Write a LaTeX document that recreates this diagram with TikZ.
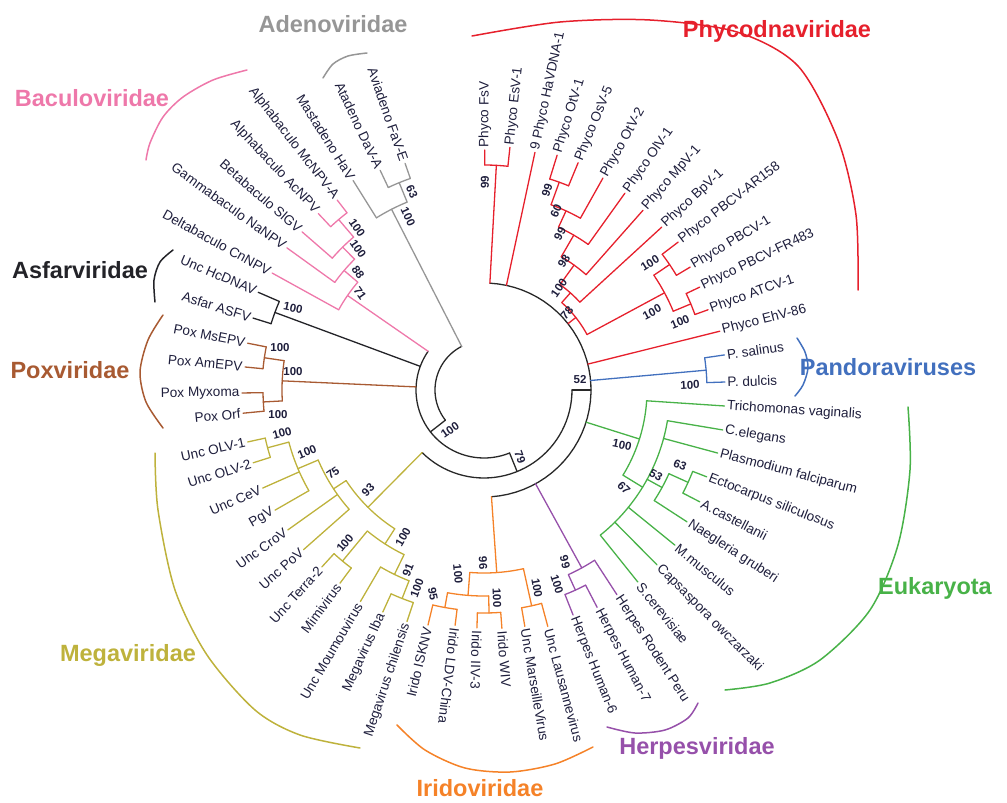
\documentclass[tikz,border=0pt]{standalone}
\usepackage{fontspec}
\setmainfont{Liberation Sans}
\usepackage{tikz}
\usepackage{xcolor}

\definecolor{phycol}{RGB}{230,32,44}
\definecolor{pancol}{RGB}{66,112,190}
\definecolor{eukcol}{RGB}{72,178,72}
\definecolor{hercol}{RGB}{150,80,170}
\definecolor{iricol}{RGB}{245,130,40}
\definecolor{megcol}{RGB}{190,178,60}
\definecolor{poxcol}{RGB}{168,90,50}
\definecolor{asfcol}{RGB}{35,35,40}
\definecolor{baccol}{RGB}{238,120,170}
\definecolor{adecol}{RGB}{150,150,150}
\definecolor{bbcol}{RGB}{40,40,40}
\definecolor{txtcol}{RGB}{30,30,60}

\tikzset{
  leaf/.style={inner sep=2pt, text=txtcol, font=\fontsize{13.6}{14}\selectfont},
  boot/.style={inner sep=0pt, text=txtcol, font=\fontsize{11.5}{12}\selectfont\bfseries},
  clade/.style={inner sep=0pt, font=\fontsize{23.5}{26}\selectfont\bfseries},
}

% leaf on the right half / left half: name, angle, r from, r tip, text
\newcommand{\tipR}[5]{\draw (#2:#3) -- (#2:#4) node[leaf, anchor=west, rotate={-(#2)}] (#1) {#5};}
\newcommand{\tipL}[5]{\draw (#2:#3) -- (#2:#4) node[leaf, anchor=east, rotate={180-(#2)}] (#1) {#5};}
% inner node: name, angle, r parent, r node, arc from, arc to
\newcommand{\knot}[6]{\draw (#2:#3) -- (#2:#4) coordinate (#1);
  \draw plot[domain=#5:#6, samples=40, variable=\t] (\t:#4);}

\begin{document}
\begin{tikzpicture}[x=1pt, y=-1pt, line width=1.3pt, line cap=round]
\useasboundingbox (0,0) rectangle (1007,803);

\begin{scope}[shift={(484,390)}]
% backbone
\begin{scope}[color=bbcol]
\coordinate (root) at (0,0);
\draw plot[domain=142:242.9, samples=40, variable=\t] (\t:49);
\knot{k1}{142}{49}{68}{67.9}{214.7}
\knot{k2}{67.9}{68}{88}{0}{134.7}
\knot{k3}{0}{88}{107}{-86.85}{86}
\end{scope}

% Phycodnaviridae
\begin{scope}[color=phycol]
\knot{p1}{-86.85}{107}{225}{-89.8}{-83.9}
\tipR{fsv}{-89.8}{225}{240}{Phyco FsV}
\tipR{esv}{-83.9}{225}{244}{Phyco EsV-1}
\tipR{hav}{-77.9}{107}{243}{9 Phyco HaVDNA-1}
\knot{p2}{-38.3}{107}{117}{-48.35}{-28.3}
\knot{p3}{-48.35}{117}{130}{-54.2}{-42.5}
\knot{p4}{-54.2}{130}{154}{-59.9}{-48.5}
\knot{p5}{-59.9}{154}{179}{-65.4}{-54.4}
\knot{p6}{-65.4}{179}{197}{-70.1}{-60.7}
\knot{p7}{-70.1}{197}{221}{-72.7}{-67.5}
\tipR{otv1}{-72.7}{221}{246}{Phyco OtV-1}
\tipR{osv5}{-67.5}{221}{246}{Phyco OsV-5}
\tipR{otv2}{-60.7}{197}{243}{Phyco OtV-2}
\tipR{olv}{-54.4}{179}{242}{Phyco OlV-1}
\tipR{mpv}{-48.5}{154}{240}{Phyco MpV-1}
\tipR{bpv}{-42.5}{130}{241}{Phyco BpV-1}
\knot{p8}{-28.3}{117}{205}{-34.05}{-22.6}
\knot{p9}{-34.05}{205}{224}{-37.3}{-30.8}
\knot{p10}{-22.6}{205}{224}{-25.5}{-19.7}
\tipR{ar158}{-37.3}{224}{244}{Phyco PBCV-AR158}
\tipR{pbcv}{-30.8}{224}{240}{Phyco PBCV-1}
\tipR{fr483}{-25.5}{224}{239}{Phyco PBCV-FR483}
\tipR{atcv}{-19.7}{224}{238}{Phyco ATCV-1}
\tipR{ehv}{-14}{107}{243}{Phyco EhV-86}
\end{scope}

% Pandoraviruses
\begin{scope}[color=pancol]
\knot{q1}{-5.1}{107}{223}{-8.3}{-1.9}
\tipR{psal}{-8.3}{223}{243}{P. salinus}
\tipR{pdul}{-1.9}{223}{241}{P. dulcis}
\end{scope}

% Eukaryota
\begin{scope}[color=eukcol]
\knot{e1}{17.5}{107}{163}{3.8}{31.5}
\tipR{tri}{3.8}{163}{241}{Trichomonas vaginalis}
\knot{e2}{31.5}{163}{186}{9.5}{51.3}
\tipR{cel}{9.5}{186}{242}{C.elegans}
\tipR{pla}{15.1}{186}{242}{Plasmodium falciparum}
\knot{e3}{28.7}{186}{203}{24.35}{33}
\knot{e4}{24.35}{203}{224}{21.3}{27.4}
\tipR{ect}{21.3}{224}{239}{Ectocarpus siliculosus}
\tipR{aca}{27.4}{224}{243}{A.castellanii}
\tipR{nae}{33}{203}{242}{Naegleria gruberi}
\tipR{mmu}{39.1}{186}{246}{M.musculus}
\tipR{cap}{45.3}{186}{246}{Capsaspora owczarzaki}
\tipR{sce}{51.3}{186}{246}{S.cerevisiae}
\end{scope}

% Herpesviridae
\begin{scope}[color=hercol]
\knot{h1}{61.2}{107}{203}{57}{65.45}
\knot{h2}{65.45}{203}{220}{62.5}{68.4}
\tipR{hrp}{57}{203}{244}{Herpes Rodent Peru}
\tipR{hh7}{62.5}{220}{245}{Herpes Human-7}
\tipR{hh6}{68.4}{220}{242}{Herpes Human-6}
\end{scope}

% Iridoviridae
\begin{scope}[color=iricol]
\knot{i1}{86}{107}{183}{77.55}{94.45}
\knot{i2}{94.45}{183}{206}{88.7}{100.2}
\knot{i3}{100.2}{206}{221}{97}{103.4}
\knot{i4}{88.7}{206}{223}{85.7}{91.7}
\knot{i5}{77.55}{183}{221}{74.9}{80.2}
\tipL{isk}{103.4}{221}{241.6}{Irido ISKNV}
\tipR{ldv}{97}{221}{237}{Irido LDV-China}
\tipR{iiv}{91.7}{223}{238}{Irido IIV-3}
\tipR{wiv}{85.7}{223}{239}{Irido WIV}
\tipR{mar}{80.2}{221}{240}{Unc MarseilleVirus}
\tipR{lau}{74.9}{221}{245}{Unc Lausannevirus}
\end{scope}

% Megaviridae
\begin{scope}[color=megcol]
\knot{m1}{134.7}{88}{165}{122.75}{146.7}
\knot{m2}{146.7}{165}{180}{138.5}{157.1}
\knot{m3}{157.1}{180}{202}{150.1}{165.05}
\knot{m4}{165.05}{202}{224}{162.5}{167.6}
\tipL{olv1}{167.6}{224}{242}{Unc OLV-1}
\tipL{olv2}{162.5}{224}{242}{Unc OLV-2}
\tipL{cev}{156.1}{202}{242}{Unc CeV}
\tipL{pgv}{150.1}{202}{241}{PgV}
\tipL{crov}{144.5}{180}{241}{Unc CroV}
\tipL{pov}{138.5}{180}{241}{Unc PoV}
\knot{m5}{122.75}{165}{183}{115.9}{129.6}
\knot{m6}{129.6}{183}{222}{126.7}{132.5}
\knot{m7}{115.9}{183}{205}{111.45}{120.3}
\knot{m8}{111.45}{205}{224}{108.4}{114.5}
\tipL{ter}{132.5}{222}{240}{Unc Terra-2}
\tipL{mim}{126.7}{222}{241}{Mimivirus}
\tipL{mou}{120.3}{205}{245}{Unc Moumouvirus}
\tipL{mlba}{114.5}{224}{244}{Megavirus lba}
\tipL{mchi}{108.4}{224}{244}{Megavirus chilensis}
\end{scope}

% Poxviridae
\begin{scope}[color=poxcol]
\knot{x1}{182.6}{68}{202}{176.9}{188.35}
\knot{x2}{188.35}{202}{222}{185.5}{191.2}
\knot{x3}{176.9}{202}{221}{174.5}{179.3}
\tipL{msepv}{191.2}{222}{241}{Pox MsEPV}
\tipL{amepv}{185.5}{222}{240}{Pox AmEPV}
\tipL{myx}{179.3}{221}{242}{Pox Myxoma}
\tipL{orf}{174.5}{221}{242}{Pox Orf}
\end{scope}

% Asfarviridae
\begin{scope}[color=asfcol]
\knot{s1}{200.35}{68}{223}{197.3}{203.4}
\tipL{hcd}{203.4}{223}{246}{Unc HcDNAV}
\tipL{asfv}{197.3}{223}{242}{Asfar ASFV}
\end{scope}

% Baculoviridae
\begin{scope}[color=baccol]
\knot{b1}{214.7}{68}{166}{208.9}{220.5}
\knot{b2}{220.5}{166}{184}{215.8}{225.3}
\knot{b3}{225.3}{184}{201}{221}{229.55}
\knot{b4}{229.55}{201}{224}{226.8}{232.3}
\tipL{mcn}{232.3}{224}{240}{Alphabaculo McNPV-A}
\tipL{acn}{226.8}{224}{242}{Alphabaculo AcNPV}
\tipL{slg}{221}{201}{241}{Betabaculo SlGV}
\tipL{nan}{215.8}{184}{243}{Gammabaculo NaNPV}
\tipL{cnn}{208.9}{166}{242}{Deltabaculo CnNPV}
\end{scope}

% Adenoviridae
\begin{scope}[color=adecol]
\knot{a1}{242.9}{49}{203}{238}{247.75}
\knot{a2}{247.75}{203}{224}{244.7}{250.8}
\tipL{mhav}{238}{203}{247}{Mastadeno HaV}
\tipL{dav}{244.7}{224}{243}{Atadeno DaV-A}
\tipL{fav}{250.8}{224}{240}{Aviadeno FaV-E}
\end{scope}
\end{scope}

% bootstrap values
\node[boot, rotate=90] (v1) at (485,182) {99};
\node[boot, rotate=72] (v2) at (547,190) {99};
\node[boot, rotate=66] (v3) at (556,211) {60};
\node[boot, rotate=62] (v4) at (560,234) {99};
\node[boot, rotate=58] (v5) at (564,261) {98};
\node[boot, rotate=55] (v6) at (559,288) {100};
\node[boot, rotate=48] (v7) at (567,313) {78};
\node[boot, rotate=32] (v8) at (650,263) {100};
\node[boot, rotate=28] (v9) at (652,312) {100};
\node[boot, rotate=22] (v10) at (680,322) {100};
\node[boot, rotate=3] (v11) at (690,385) {100};
\node[boot] (v12) at (580,380) {52};
\node[boot, rotate=-12] (v13) at (622,445) {100};
\node[boot, rotate=-45] (v14) at (624,488) {67};
\node[boot, rotate=-30] (v15) at (656,475) {53};
\node[boot, rotate=-22] (v16) at (680,465) {63};
\node[boot, rotate=-75] (v17) at (565,562) {99};
\node[boot, rotate=-72] (v18) at (557,584) {100};
\node[boot, rotate=-88] (v19) at (483,563) {96};
\node[boot, rotate=-85] (v20) at (458,574) {100};
\node[boot, rotate=-88] (v21) at (497,598) {100};
\node[boot, rotate=-80] (v22) at (537,588) {100};
\node[boot, rotate=-80] (v23) at (433,594) {95};
\node[boot, rotate=15] (v24) at (282,433) {100};
\node[boot, rotate=22] (v25) at (307,452) {100};
\node[boot, rotate=35] (v26) at (333,473) {75};
\node[boot, rotate=45] (v27) at (368,490) {93};
\node[boot, rotate=60] (v28) at (403,537) {100};
\node[boot, rotate=50] (v29) at (345,543) {100};
\node[boot, rotate=68] (v30) at (408,570) {91};
\node[boot, rotate=70] (v31) at (417,588) {100};
\node[boot] (v32) at (280,348) {100};
\node[boot] (v33) at (293,372) {100};
\node[boot] (v34) at (278,415) {100};
\node[boot, rotate=-12] (v35) at (293,308) {100};
\node[boot, rotate=-55] (v36) at (357,228) {100};
\node[boot, rotate=-55] (v37) at (358,249) {100};
\node[boot, rotate=-55] (v38) at (358,272) {88};
\node[boot, rotate=-55] (v39) at (360,293) {71};
\node[boot, rotate=-65] (v40) at (412,192) {63};
\node[boot, rotate=-65] (v41) at (408,217) {100};
\node[boot, rotate=35] (v42) at (450,430) {100};
\node[boot, rotate=-70] (v43) at (520,457) {79};

% clade brackets
\draw[phycol, line width=1.5pt] plot[smooth] coordinates {(472,36) (560,22) (650,20) (737,32) (798,66) (838,140) (856,215) (858,290)};
\draw[pancol, line width=1.5pt] plot[smooth] coordinates {(797,338) (805,352) (808,368) (803,385) (795,396)};
\draw[eukcol, line width=1.5pt] plot[smooth] coordinates {(908,407) (910,470) (898,545) (870,610) (820,660) (770,683) (725,690)};
\draw[hercol, line width=1.5pt] plot[smooth] coordinates {(607,727) (635,733) (665,730) (688,718) (698,703)};
\draw[iricol, line width=1.5pt] plot[smooth] coordinates {(397,725) (425,750) (465,768) (510,772) (555,764) (593,747)};
\draw[megcol, line width=1.5pt] plot[smooth] coordinates {(155,453) (158,510) (175,590) (207,655) (255,710) (300,735) (360,748)};
\draw[poxcol, line width=1.5pt] plot[smooth] coordinates {(163,315) (148,340) (140,372) (146,402) (163,428)};
\draw[asfcol, line width=1.5pt] plot[smooth] coordinates {(173,250) (160,262) (154,280) (155,302)};
\draw[baccol, line width=1.5pt] plot[smooth] coordinates {(247,70) (213,80) (183,97) (163,117) (150,143) (146,160)};
\draw[adecol, line width=1.5pt] plot[smooth] coordinates {(323,78) (333,64) (348,56) (367,53)};

% clade names
\node[clade, text=phycol] (phy) at (777,31) {Phycodnaviridae};
\node[clade, text=adecol] (ade) at (333,24) {Adenoviridae};
\node[clade, text=baccol] (bac) at (92,98) {Baculoviridae};
\node[clade, text=asfcol] (asf) at (80,270) {Asfarviridae};
\node[clade, text=poxcol] (pox) at (70,370) {Poxviridae};
\node[clade, text=pancol] (pan) at (888,367) {Pandoraviruses};
\node[clade, text=eukcol] (euk) at (935,588) {Eukaryota};
\node[clade, text=megcol] (meg) at (128,655) {Megaviridae};
\node[clade, text=iricol] (iri) at (480,788) {Iridoviridae};
\node[clade, text=hercol] (her) at (697,748) {Herpesviridae};
\end{tikzpicture}
\end{document}
